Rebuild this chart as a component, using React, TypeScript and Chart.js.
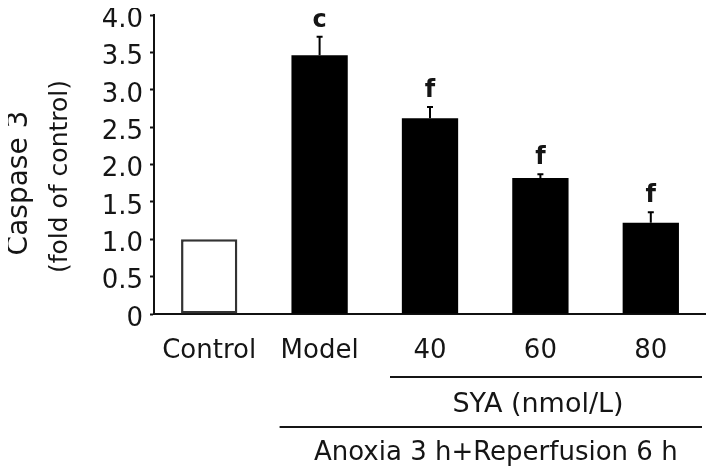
import React, { useEffect, useRef } from "react";
import { Chart, registerables } from "chart.js";

Chart.register(...registerables);

const categories = ["Control", "Model", "40", "60", "80"];
const caspaseValues = [1.0, 3.46, 2.62, 1.82, 1.22];
const errorTops = [null, 3.71, 2.77, 1.87, 1.36];
const significance = ["", "c", "f", "f", "f"];
const yTicks = [0, 0.5, 1, 1.5, 2, 2.5, 3, 3.5, 4];
const yTickLabels = ["0", "0.5", "1.0", "1.5", "2.0", "2.5", "3.0", "3.5", "4.0"];
const yTitleLines = ["Caspase 3", "(fold of control)"];
const groupTexts = ["SYA (nmol/L)", "Anoxia 3 h+Reperfusion 6 h"];
const groupStartIndex = [2, 1];

const FONT = "'DejaVu Sans', 'Liberation Sans', Arial, sans-serif";
const INK = "#151515";

const annotationPlugin = {
  id: "annotations",
  afterDatasetsDraw(chart: any) {
    const ctx = chart.ctx;
    const meta = chart.getDatasetMeta(0);
    const y = chart.scales.y;
    ctx.save();
    ctx.strokeStyle = "#000";
    ctx.fillStyle = INK;
    ctx.lineWidth = 2;
    meta.data.forEach((bar: any, i: number) => {
      const top = errorTops[i];
      if (top == null) return;
      const yTop = y.getPixelForValue(top);
      const yBar = y.getPixelForValue(caspaseValues[i]);
      ctx.beginPath();
      ctx.moveTo(bar.x, yBar);
      ctx.lineTo(bar.x, yTop);
      ctx.moveTo(bar.x - 3, yTop);
      ctx.lineTo(bar.x + 3, yTop);
      ctx.stroke();
      const s = significance[i];
      if (s) {
        ctx.font = `bold 24px ${FONT}`;
        ctx.textAlign = "center";
        ctx.textBaseline = "alphabetic";
        ctx.fillText(s, bar.x, yTop - 10);
      }
    });
    ctx.restore();
  },
  afterDraw(chart: any) {
    const ctx = chart.ctx;
    const area = chart.chartArea;
    const x = chart.scales.x;
    ctx.save();
    ctx.fillStyle = INK;
    ctx.strokeStyle = INK;
    ctx.lineWidth = 2;
    ctx.textAlign = "center";
    ctx.textBaseline = "alphabetic";
    const lineOffsets = [63, 113];
    const textOffsets = [98, 146];
    const textSizes = [27, 26];
    groupTexts.forEach((t, k) => {
      const x1 = x.getPixelForValue(groupStartIndex[k]) - 40;
      const x2 = area.right - 4;
      const ly = area.bottom + lineOffsets[k];
      ctx.beginPath();
      ctx.moveTo(x1, ly);
      ctx.lineTo(x2, ly);
      ctx.stroke();
      ctx.font = `${textSizes[k]}px ${FONT}`;
      ctx.fillText(t, (x1 + x2) / 2 + (k === 0 ? -8 : 5), area.bottom + textOffsets[k]);
    });
    // y-axis title (two lines, rotated), alphabetic baseline
    const titleX = [area.left - 127, area.left - 87];
    const titleY = [area.top + 168, area.top + 161.5];
    const titleSize = [28, 25];
    yTitleLines.forEach((t, k) => {
      ctx.save();
      ctx.translate(titleX[k], titleY[k]);
      ctx.rotate(-Math.PI / 2);
      ctx.font = `${titleSize[k]}px ${FONT}`;
      ctx.textAlign = "center";
      ctx.textBaseline = "alphabetic";
      ctx.fillText(t, 0, 0);
      ctx.restore();
    });
    ctx.restore();
  },
};

export default function App() {
  const ref = useRef<HTMLCanvasElement | null>(null);
  useEffect(() => {
    if (!ref.current) return;
    const chart = new Chart(ref.current, {
      type: "bar",
      data: {
        labels: categories,
        datasets: [
          {
            data: caspaseValues,
            backgroundColor: caspaseValues.map((_, i) => (i === 0 ? "#ffffff" : "#000000")),
            borderColor: caspaseValues.map((_, i) => (i === 0 ? "#333333" : "#000000")),
            borderWidth: caspaseValues.map((_, i) => (i === 0 ? 2.5 : 0)),
            borderSkipped: false,
            barPercentage: 0.51,
            categoryPercentage: 1,
          },
        ],
      },
      options: {
        responsive: false,
        animation: false,
        events: [],
        layout: { padding: { top: 15, left: 0, right: 8, bottom: 110 } },
        plugins: {
          legend: { display: false },
          tooltip: { enabled: false },
          title: { display: false },
        },
        scales: {
          x: {
            offset: true,
            grid: { display: false, drawTicks: false },
            border: { display: true, color: "#111", width: 2 },
            ticks: {
              color: INK,
              padding: 22,
              font: { family: FONT, size: 26 },
              maxRotation: 0,
              autoSkip: false,
            },
            afterFit: (s: any) => {
              s.height = 50;
              s.paddingLeft = 0;
              s.paddingRight = 0;
            },
          },
          y: {
            min: 0,
            max: 4,
            afterBuildTicks: (s: any) => {
              s.ticks = yTicks.map((v) => ({ value: v }));
            },
            grid: {
              drawOnChartArea: false,
              drawTicks: true,
              tickLength: 4,
              tickWidth: 2,
              tickColor: "#111",
              color: "#111",
            },
            border: { display: true, color: "#111", width: 2 },
            ticks: {
              color: INK,
              padding: 7,
              labelOffset: 5,
              font: { family: FONT, size: 26 },
              callback: (_v: any, i: number) => yTickLabels[i],
            },
            afterFit: (s: any) => {
              s.width = 154;
              s.paddingTop = 0;
              s.paddingBottom = 0;
            },
          },
        },
      },
      plugins: [annotationPlugin],
    });
    return () => chart.destroy();
  }, []);
  return (
    <div style={{ margin: "-8px 0 0 -8px", width: 714, height: 474 }}>
      <canvas ref={ref} width={714} height={474} style={{ display: "block" }} />
    </div>
  );
}
